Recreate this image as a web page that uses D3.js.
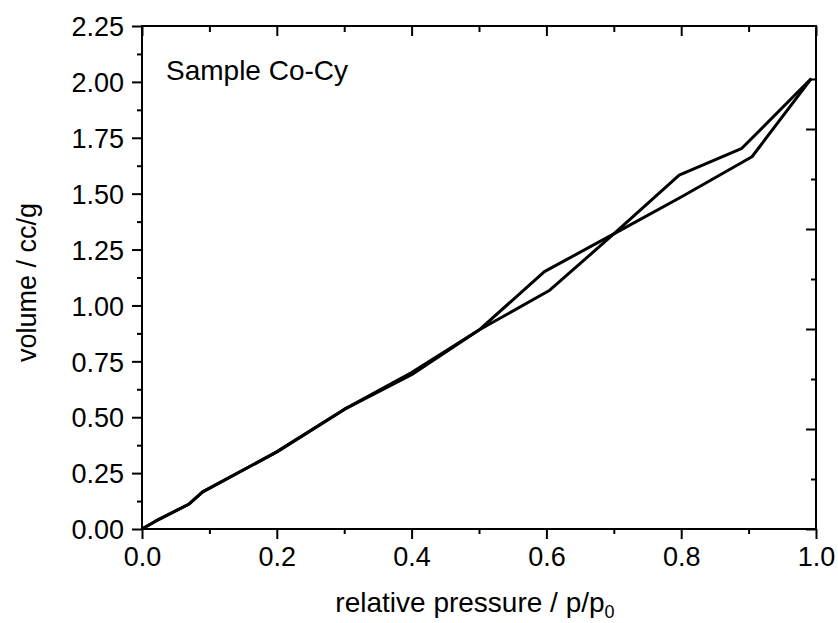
<!DOCTYPE html>
<html>
<head>
<meta charset="utf-8">
<script src="https://cdnjs.cloudflare.com/ajax/libs/d3/7.8.5/d3.min.js"></script>
<style>
  body { margin: 0; background: #fff; }
  svg text { font-family: "Liberation Sans", Arial, sans-serif; fill: #000; }
</style>
</head>
<body>
<svg id="chart" width="838" height="623"></svg>
<script>
// isotherm branches (p/p0, volume cc/g)
var branchOneP = [0, 0.02, 0.07, 0.09, 0.2, 0.3, 0.4, 0.5, 0.597, 0.7, 0.8, 0.905, 0.993];
var branchOneV = [0, 0.035, 0.112, 0.166, 0.345, 0.535, 0.69, 0.89, 1.151, 1.32, 1.485, 1.665, 2.015];
var branchTwoP = [0, 0.02, 0.07, 0.09, 0.2, 0.3, 0.4, 0.5, 0.605, 0.7, 0.797, 0.89, 0.993];
var branchTwoV = [0, 0.035, 0.112, 0.166, 0.345, 0.535, 0.70, 0.89, 1.068, 1.32, 1.583, 1.703, 2.015];

var xMajor = [0, 0.2, 0.4, 0.6, 0.8, 1.0];
var xMinor = [0.1, 0.3, 0.5, 0.7, 0.9];
var yMajor = [0, 0.25, 0.5, 0.75, 1.0, 1.25, 1.5, 1.75, 2.0, 2.25];
var yMinor = [0.125, 0.375, 0.625, 0.875, 1.125, 1.375, 1.625, 1.875, 2.125];
// the right axis carries its own (unlabelled) scale
var rMajor = [0, 1, 2, 3, 4];
var rMinor = [0.5, 1.5, 2.5, 3.5, 4.5];

var sampleLabel = "Sample Co-Cy";

var svg = d3.select("#chart");
var margin = {top: 26, right: 22, bottom: 94, left: 142};
var W = 838 - margin.left - margin.right;
var H = 623 - margin.top - margin.bottom;

var g = svg.append("g").attr("transform", "translate(" + margin.left + "," + margin.top + ")");

var x = d3.scaleLinear().domain([0, 1]).range([0, W]);
var y = d3.scaleLinear().domain([0, 2.25]).range([H, 0]);
var yR = d3.scaleLinear().domain([0, H / 100]).range([H, 0]);

function styleAxis(sel) {
  sel.select(".domain").remove();
  sel.selectAll("line").attr("stroke", "#000").attr("stroke-width", 2);
  sel.selectAll("text").style("font-size", "27px");
}

// bottom
g.append("g").attr("transform", "translate(0," + H + ")")
  .call(d3.axisBottom(x).tickValues(xMajor).tickSize(10).tickPadding(8).tickFormat(d3.format(".1f")))
  .call(styleAxis);
g.append("g").attr("transform", "translate(0," + H + ")")
  .call(d3.axisBottom(x).tickValues(xMinor).tickSize(5).tickFormat(""))
  .call(styleAxis);
// top (inward)
g.append("g")
  .call(d3.axisTop(x).tickValues(xMajor).tickSize(-10).tickFormat(""))
  .call(styleAxis);
g.append("g")
  .call(d3.axisTop(x).tickValues(xMinor).tickSize(-6).tickFormat(""))
  .call(styleAxis);
// left
var yAxisG = g.append("g")
  .call(d3.axisLeft(y).tickValues(yMajor).tickSize(10).tickPadding(8).tickFormat(d3.format(".2f")))
  .call(styleAxis);
yAxisG.selectAll(".tick text").attr("dy", "0.36em");
g.append("g")
  .call(d3.axisLeft(y).tickValues(yMinor).tickSize(5).tickFormat(""))
  .call(styleAxis);
// right (inward)
g.append("g").attr("transform", "translate(" + W + ",0)")
  .call(d3.axisRight(yR).tickValues(rMajor).tickSize(-10).tickFormat(""))
  .call(styleAxis);
g.append("g").attr("transform", "translate(" + W + ",0)")
  .call(d3.axisRight(yR).tickValues(rMinor).tickSize(-5).tickFormat(""))
  .call(styleAxis);

// frame
g.append("rect").attr("width", W).attr("height", H)
  .attr("fill", "none").attr("stroke", "#000").attr("stroke-width", 2);

var line = d3.line().x(function(d){ return x(d[0]); }).y(function(d){ return y(d[1]); });

[d3.zip(branchOneP, branchOneV), d3.zip(branchTwoP, branchTwoV)].forEach(function(pts){
  g.append("path").datum(pts)
    .attr("d", line)
    .attr("fill", "none")
    .attr("stroke", "#000")
    .attr("stroke-width", 3)
    .attr("stroke-linejoin", "round");
});

g.append("text").attr("x", 24).attr("y", 54)
  .style("font-size", "28px").text(sampleLabel);

// axis titles
var xt = svg.append("text")
  .attr("x", margin.left + W / 2 - 4).attr("y", 612)
  .attr("text-anchor", "middle").style("font-size", "28px");
xt.append("tspan").text("relative pressure / p/p");
xt.append("tspan").attr("dy", 6).style("font-size", "18px").text("0");

svg.append("text")
  .attr("transform", "translate(36," + (margin.top + H / 2 + 5) + ") rotate(-90)")
  .attr("text-anchor", "middle").style("font-size", "27px")
  .text("volume / cc/g");
</script>
</body>
</html>
